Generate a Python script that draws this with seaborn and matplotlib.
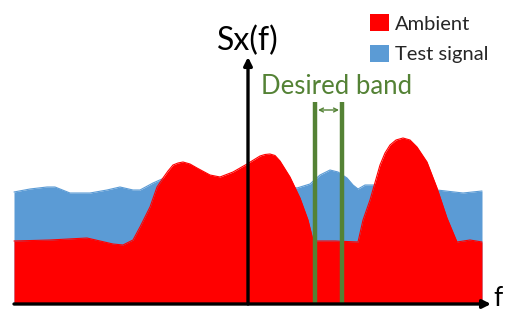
import numpy as np
import pandas as pd
import matplotlib
matplotlib.use("Agg")
import matplotlib.pyplot as plt
from matplotlib.patches import Patch
import seaborn as sns

# ---- data (frequency position, spectral level; baseline level = 9) ----
ambient_f = [14, 50, 87, 100, 113, 123, 133, 140, 150, 157, 163, 168, 173, 178, 183, 190,
             197, 210, 220, 233, 247, 260, 265, 270, 275, 280, 290, 300, 308, 313, 316,
             335, 358, 363, 370, 380, 385, 390, 396, 403, 410, 417, 427, 437, 447, 457,
             470, 482]
ambient_lvl = [72, 73, 75, 72, 69, 68, 73, 86, 106, 126, 135, 142, 148, 150, 151, 149,
               145, 138, 136, 141, 149, 157, 158.5, 159, 157.5, 152, 136, 115, 93, 73, 72,
               72, 71, 93, 113, 148, 160, 168, 173, 175, 173, 166, 151, 125, 95, 71,
               73, 71]

test_f = [14, 30, 47, 55, 70, 90, 107, 120, 133, 140, 153, 162, 200, 240, 285,
          297, 310, 320, 330, 338, 347, 353, 358, 365, 375, 400, 437, 463, 482]
test_lvl = [121, 124, 126, 126, 120, 120, 123, 126, 123, 123, 130, 134, 135, 133, 127,
            125, 129, 138, 143, 141, 135, 128, 124, 128, 128, 127, 123, 120, 122]

series_labels = ["Ambient", "Test signal"]
band_edges = [315, 342]
baseline = 9

RED = "#ff0000"
BLUE = "#5b9bd5"
GREEN = "#548235"

sns.set_theme(style="white")
plt.rcParams["font.family"] = ["Lato", "DejaVu Sans"]

fig = plt.figure(figsize=(5.06, 3.13), dpi=100)
ax = fig.add_axes([0, 0, 1, 1])
ax.set_xlim(0, 506)
ax.set_ylim(0, 313)
ax.axis("off")

test_df = pd.DataFrame({"f": test_f, "S": test_lvl})
amb_df = pd.DataFrame({"f": ambient_f, "S": ambient_lvl})

# Test signal (behind)
ax.fill_between(test_df["f"], baseline, test_df["S"], color=BLUE, linewidth=0, zorder=1)
sns.lineplot(data=test_df, x="f", y="S", ax=ax, color=BLUE, linewidth=0.8, zorder=1.1)
# Ambient (front)
ax.fill_between(amb_df["f"], baseline, amb_df["S"], color=RED, linewidth=0, zorder=2)
sns.lineplot(data=amb_df, x="f", y="S", ax=ax, color=RED, linewidth=0.8, zorder=2.1)

# band edges
for bx in band_edges:
    ax.plot([bx, bx], [baseline, 211], color=GREEN, linewidth=3.2, zorder=3, solid_capstyle="butt")
ax.annotate("", xy=(band_edges[0] + 3, 203), xytext=(band_edges[1] - 3, 203),
            arrowprops=dict(arrowstyle="<->", color=GREEN, lw=1.0,
                            shrinkA=0, shrinkB=0, mutation_scale=7), zorder=4)
ax.text(337, 226, "Desired band", color=GREEN, fontsize=18.5, ha="center", va="center", zorder=4)

# axes arrows
ax.annotate("", xy=(491, baseline), xytext=(14, baseline),
            arrowprops=dict(arrowstyle="-|>", color="black", lw=2.4,
                            shrinkA=0, shrinkB=0, mutation_scale=12), zorder=5)
ax.annotate("", xy=(248, 256), xytext=(248, baseline),
            arrowprops=dict(arrowstyle="-|>", color="black", lw=2.4,
                            shrinkA=0, shrinkB=0, mutation_scale=12), zorder=5)
ax.text(248, 272, "Sx(f)", color="black", fontsize=23, ha="center", va="center", zorder=5)
ax.text(498, 15, "f", color="black", fontsize=19, ha="center", va="center", zorder=5)

# legend
handles = [Patch(facecolor=RED, edgecolor="none"), Patch(facecolor=BLUE, edgecolor="none")]
ax.legend(handles, series_labels, loc="upper left", bbox_to_anchor=(368 / 506, 1 - 12 / 313),
          frameon=False, fontsize=14.5, handlelength=0.95, handleheight=0.95,
          handletextpad=0.3, labelspacing=0.6, borderaxespad=0, borderpad=0.1)

fig.savefig("out.png", dpi=100)
